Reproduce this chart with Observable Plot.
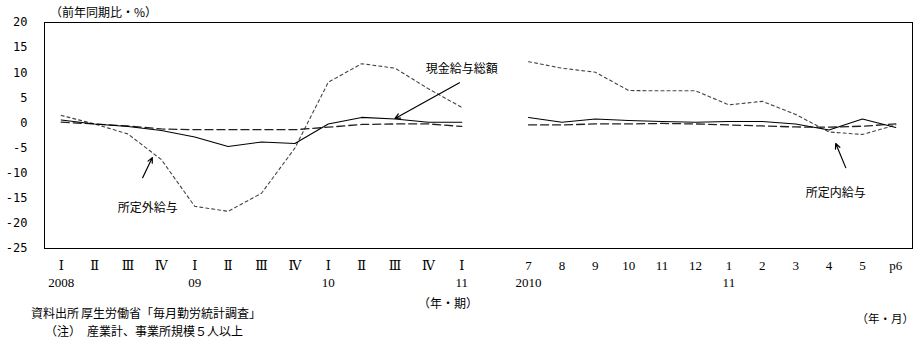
<!DOCTYPE html>
<html><head><meta charset="utf-8">
<script src="https://cdn.jsdelivr.net/npm/d3@7"></script>
<script src="https://cdn.jsdelivr.net/npm/@observablehq/plot@0.6"></script>
<style>
body{margin:0;background:#fff;}
#wrap{position:relative;width:914px;height:360px;font-family:"Noto Sans CJK JP",sans-serif;color:#000;overflow:hidden;}
.t{position:absolute;font-size:12px;white-space:pre;line-height:1;}
#chart{position:absolute;left:0;top:0;}
</style></head><body>
<div id="wrap">
<div id="chart"></div>
<div class="t" style="left:50px;top:6px">（前年同期比・%）</div>
<div class="t" style="left:418px;top:297px">（年・期）</div>
<div class="t" style="right:0px;top:313px;font-size:11.5px">（年・月）</div>
<div class="t" style="left:31px;top:307px">資料出所</div>
<div class="t" style="left:81px;top:307px">厚生労働省「毎月勤労統計調査」</div>
<div class="t" style="left:45px;top:325px">（注）　産業計、事業所規模５人以上</div>
</div>
<script>
// Tick labels
const quarterLabels = ["Ⅰ","Ⅱ","Ⅲ","Ⅳ","Ⅰ","Ⅱ","Ⅲ","Ⅳ","Ⅰ","Ⅱ","Ⅲ","Ⅳ","Ⅰ"];
const quarterYears  = ["2008","","","","09","","","","10","","","","11"];
const monthLabels   = ["7","8","9","10","11","12","1","2","3","4","5","p6"];
const monthYears    = ["2010","","","","","","11","","","","",""];
const yTicks = [-25,-20,-15,-10,-5,0,5,10,15,20];

// Series (前年同期比 %)
const totalQ     = [0.6,-0.2,-0.7,-1.5,-2.8,-4.7,-3.8,-4.1,-0.2,1.1,0.8,0.15,0.15];
const totalM     = [1.1,0.15,0.8,0.5,0.3,0.15,0.3,0.3,-0.2,-1.4,0.8,-0.9];
const scheduledQ = [0.15,-0.2,-0.6,-1.2,-1.35,-1.35,-1.35,-1.35,-0.85,-0.3,-0.2,-0.2,-0.7];
const scheduledM = [-0.4,-0.4,-0.2,-0.2,-0.1,-0.2,-0.4,-0.6,-0.8,-0.85,-0.65,-0.2];
const overtimeQ  = [1.5,-0.2,-2.2,-7.3,-16.6,-17.6,-14.0,-5.0,8.1,11.8,10.9,6.8,3.1];
const overtimeM  = [12.2,10.9,10.1,6.45,6.4,6.4,3.6,4.3,1.7,-1.8,-2.3,-0.4];

// Annotations (label position and arrow in data units: slot index, %)
const labels = [
  {name:"現金給与総額", x:12.0, y:10.8, ax1:11.93, ay1:8.0, ax2:10.0, ay2:0.9},
  {name:"所定外給与",   x:2.59, y:-17.0, ax1:2.44, ay1:-10.9, ax2:2.73, ay2:-6.9},
  {name:"所定内給与",   x:23.2, y:-13.9, ax1:23.5, ay1:-8.9, ax2:23.2, ay2:-4.1}
];

// slot layout: quarters 0..12, gap at 13, months 14..25
const qIdx = quarterLabels.map((_, i) => i);
const mIdx = monthLabels.map((_, i) => 14 + i);
const tickText = new Map();
qIdx.forEach((s, i) => tickText.set(s, quarterLabels[i]));
mIdx.forEach((s, i) => tickText.set(s, monthLabels[i]));
const yearText = new Map();
qIdx.forEach((s, i) => { if (quarterYears[i]) yearText.set(s, quarterYears[i]); });
mIdx.forEach((s, i) => { if (monthYears[i]) yearText.set(s, monthYears[i]); });

function rows(q, m) {
  return [
    ...q.map((v, i) => ({s: qIdx[i], v, seg: "q"})),
    ...m.map((v, i) => ({s: mIdx[i], v, seg: "m"}))
  ];
}

const serif = "Liberation Serif, DejaVu Serif, serif";

const chart = Plot.plot({
  width: 914, height: 300,
  marginLeft: 44, marginRight: 2, marginTop: 22, marginBottom: 52,
  style: {background: "#fff", fontFamily: "Noto Sans CJK JP, sans-serif"},
  x: {domain: [-0.5, 25.5], label: null},
  y: {domain: [-25, 20], label: null},
  marks: [
    Plot.axisY({ticks: yTicks, tickSize: 0, tickPadding: 17, tickFormat: d => String(d),
      fontSize: 12, fontFamily: "DejaVu Sans Mono, monospace", label: null}),
    Plot.axisX({ticks: [...qIdx, ...mIdx], tickSize: 0, tickPadding: 12,
      tickFormat: s => tickText.get(s), fontSize: 13, fontFamily: serif, label: null}),
    Plot.axisX({ticks: [...yearText.keys()], tickSize: 0, tickPadding: 29,
      tickFormat: s => yearText.get(s), fontSize: 13, fontFamily: serif, label: null}),
    Plot.line(rows(overtimeQ, overtimeM), {x: "s", y: "v", z: "seg",
      stroke: "#444", strokeWidth: 1.1, strokeDasharray: "3,3"}),
    Plot.line(rows(scheduledQ, scheduledM), {x: "s", y: "v", z: "seg",
      stroke: "#222", strokeWidth: 1.3, strokeDasharray: "8,4"}),
    Plot.line(rows(totalQ, totalM), {x: "s", y: "v", z: "seg",
      stroke: "#000", strokeWidth: 1.1}),
    Plot.arrow(labels, {x1: "ax1", y1: "ay1", x2: "ax2", y2: "ay2",
      stroke: "#000", strokeWidth: 1.2, headLength: 7, headAngle: 50}),
    Plot.text(labels, {x: "x", y: "y", text: "name", fontSize: 12, fill: "#000"}),
    Plot.frame({stroke: "#000", strokeWidth: 1})
  ]
});
document.getElementById("chart").appendChild(chart);
</script>
</body></html>
